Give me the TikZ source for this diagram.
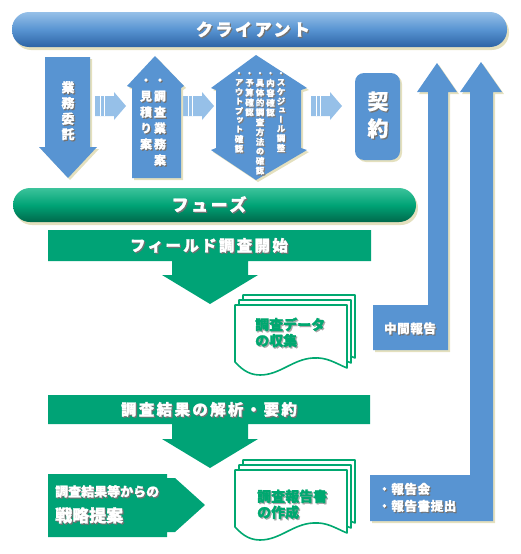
\documentclass[tikz,border=0pt]{standalone}
\usepackage{fontspec}
\usepackage{graphicx}
\usetikzlibrary{shadows}
\setmainfont{Noto Sans CJK JP}[BoldFeatures={FakeBold=1.5}]
\newfontfamily\tatefont{Noto Sans CJK JP}[RawFeature=+vert, BoldFeatures={FakeBold=0.6}]

\definecolor{cblue}{RGB}{88,148,210}
\definecolor{cbluel}{RGB}{150,192,232}
\definecolor{cblued}{RGB}{45,100,165}
\definecolor{cgreen}{RGB}{0,163,118}
\definecolor{cgreenl}{RGB}{60,195,155}
\definecolor{cgreend}{RGB}{0,105,75}
\definecolor{cream}{RGB}{228,224,190}
\definecolor{docgreen}{RGB}{0,168,112}

\newcommand\shd[2][black!55]{\rlap{\kern1.2pt\raisebox{-1.2pt}{\textcolor{#1}{#2}}}#2}
\newcommand\tcol[1]{\begin{tabular}{@{}c@{}}#1\end{tabular}}

\tikzset{
  bluebar/.style={rounded corners=17, top color=cbluel, bottom color=cblued, middle color=cblue,
    drop shadow={shadow xshift=2pt, shadow yshift=-3pt, fill=cream, opacity=1}},
  greenbar/.style={rounded corners=17, top color=cgreenl, bottom color=cgreend, middle color=cgreen,
    drop shadow={shadow xshift=2pt, shadow yshift=-3pt, fill=cream, opacity=1}},
  bluearrow/.style={fill=cblue, drop shadow={shadow xshift=2pt, shadow yshift=-2pt, fill=cream, opacity=1}},
  lightarrow/.style={fill=cbluel},
  greenarrow/.style={fill=cgreen},
  docline/.style={draw=docgreen, line width=1.6pt, fill=white, line join=round},
  docpage/.pic={
    \path[docline] (0,0) -- (112,0) -- (112,63) .. controls (100,58) and (92,52) .. (78,53)
      .. controls (58,54) and (45,70) .. (25,70) .. controls (12,70) and (5,62) .. (0,57) -- cycle;
  },
  bartext/.style={text=white, inner sep=0, font=\bfseries\fontsize{17}{20}\selectfont\addfontfeature{LetterSpace=15}},
  headtext/.style={text=white, inner sep=0, font=\bfseries\fontsize{15.5}{18}\selectfont\addfontfeature{LetterSpace=15}},
  boxtext/.style={text=white, inner sep=0, font=\bfseries\fontsize{12.5}{17}\selectfont\addfontfeature{LetterSpace=5}},
  doctext/.style={text=docgreen, inner sep=0, anchor=west, align=left, font=\bfseries\fontsize{14}{16}\selectfont},
  tatesmall/.style={text=white, inner sep=0, anchor=north, font=\tatefont\bfseries\fontsize{8.5}{8.8}\selectfont},
  tatemid/.style={text=white, inner sep=0, font=\tatefont\bfseries\fontsize{12}{16}\selectfont},
  tatebig/.style={text=white, inner sep=0, font=\tatefont\bfseries\fontsize{13}{15}\selectfont},
  tatekei/.style={text=white, inner sep=0, font=\tatefont\bfseries\fontsize{21}{27}\selectfont}
}

\begin{document}
\begin{tikzpicture}[x=1pt,y=-1pt]
\useasboundingbox (0,0) rectangle (520,554);

% client side
\path[bluebar] (12,12) rectangle (507,47);
\node[bartext] (client) at (253,30) {\shd{クライアント}};

\path[bluearrow] (45,57) -- (90,57) -- (90,147) -- (97,147) -- (68,178) -- (39,147) -- (45,147) -- cycle;
\node[tatebig] (itaku) at (68,113) {\shd{\tcol{業\\務\\委\\託}}};

\foreach \sx in {95,183,311}{
  \begin{scope}[shift={(\sx,0)}]
    \path[lightarrow] (0,96) -- (19,96) -- (19,92) -- (31,106) -- (19,120) -- (19,116) -- (0,116) -- cycle;
    \draw[white, line width=1pt] (5,96) -- (5,116) (9,96) -- (9,116);
  \end{scope}
}

\path[bluearrow] (155,56) -- (184,86) -- (181,88) -- (181,178) -- (132,178) -- (132,88) -- (127,86) -- cycle;
\node[tatemid] (mitsumori) at (146,114) {\shd{\tcol{・\\見\\積\\り\\案}}};
\node[tatemid] (gyomuan) at (160,122) {\shd{\tcol{・\\調\\査\\業\\務\\案}}};

\path[bluearrow] (256,55) -- (307,88) -- (301,90) -- (301,148) -- (307,150) -- (256,180)
  -- (211,150) -- (216,148) -- (216,90) -- (211,88) -- cycle;
\node[tatesmall] (sched) at (281,70) {\shd[black!50]{\tcol{・\\ス\\ケ\\ジ\\ュ\\ー\\ル\\調\\整}}};
\node[tatesmall] (naiyo) at (270.5,70) {\shd[black!50]{\tcol{・\\内\\容\\確\\認}}};
\node[tatesmall] (hoho) at (260,70) {\shd[black!50]{\tcol{・\\具\\体\\的\\調\\査\\方\\法\\の\\確\\認}}};
\node[tatesmall] (yosan) at (249.5,70) {\shd[black!50]{\tcol{・\\予\\算\\確\\認}}};
\node[tatesmall] (output) at (239,70) {\shd[black!50]{\tcol{・\\ア\\ウ\\ト\\プ\\ッ\\ト\\確\\認}}};

\path[bluearrow, rounded corners=9] (355,73) rectangle (400,160);
\node[tatekei] (keiyaku) at (378,118) {\shd{\tcol{契\\約}}};

% reports back to client
\path[bluearrow] (373,305) -- (428,305) -- (428,92) -- (417,92) -- (437,63) -- (457,92) -- (448,92)
  -- (448,350) -- (373,350) -- cycle;
\node[boxtext] (chukan) at (410,329) {\shd{中間報告}};

\path[bluearrow] (370,475) -- (470,475) -- (470,92) -- (460,92) -- (481,62) -- (502,92) -- (493,92)
  -- (493,521) -- (370,521) -- cycle;
\node[boxtext, anchor=west, align=left] (hokoku) at (378,498) {\shd{・報告会}\\\shd{・報告書提出}};

% phase side
\path[greenbar] (13,188) rectangle (416,222);
\node[bartext] (phase) at (209,205) {\shd{フューズ}};

\path[greenarrow] (48,230) -- (371,230) -- (371,261) -- (248,261) -- (248,275) -- (258,275) -- (210,304)
  -- (162,275) -- (172,275) -- (172,261) -- (48,261) -- cycle;
\node[headtext] (field) at (209,246) {\shd{フィールド調査開始}};

\foreach \px/\py in {243/295,239/300,235/305} \pic at (\px,\py) {docpage};
\node[doctext] (shushu) at (255,333) {\shd[black!35]{調査データ}\\\shd[black!35]{の収集}};

\path[greenarrow] (48,395) -- (370,395) -- (370,424) -- (248,424) -- (248,439) -- (258,439) -- (210,468)
  -- (162,439) -- (172,439) -- (172,424) -- (48,424) -- cycle;
\node[headtext] (kaiseki) at (209,410) {\shd{調査結果の解析・要約}};

\path[greenarrow] (48,474) -- (167,474) -- (167,478) -- (175,478) -- (205,505) -- (175,532) -- (167,532)
  -- (167,537) -- (48,537) -- cycle;
\node[text=white, inner sep=0, anchor=west, font=\bfseries\fontsize{13}{15}\selectfont] (teian1) at (55,492) {\shd{調査結果等からの}};
\node[text=white, inner sep=0, anchor=west, font=\bfseries\fontsize{17}{20}\selectfont] (teian2) at (55,516) {\shd{戦略提案}};

\foreach \px/\py in {243/460,239/465,235/470} \pic at (\px,\py) {docpage};
\node[doctext] (sakusei) at (257,505) {\shd[black!35]{調査報告書}\\\shd[black!35]{の作成}};

\end{tikzpicture}
\end{document}
